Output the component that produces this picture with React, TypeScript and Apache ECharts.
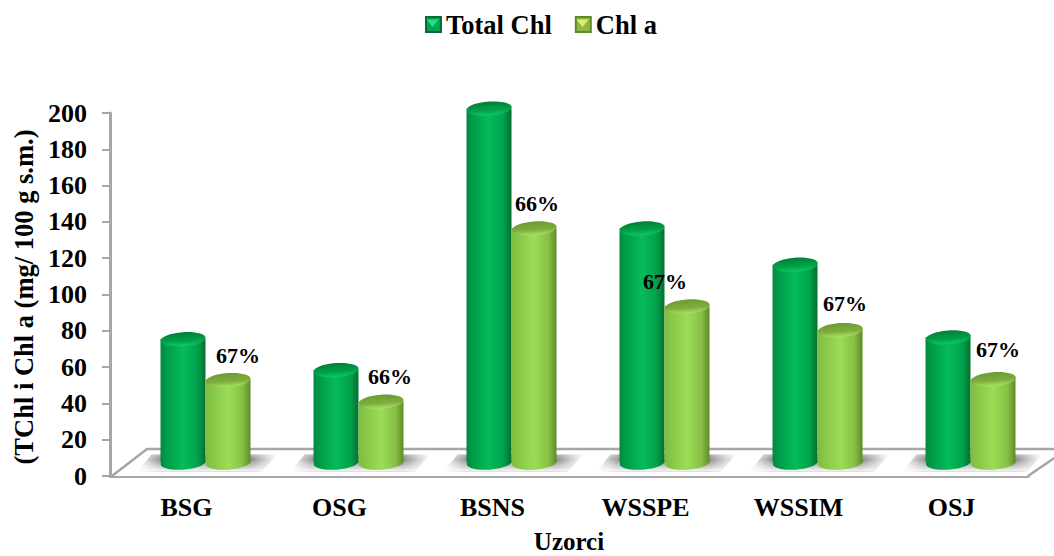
import React, { useEffect, useRef } from "react";
import * as echarts from "echarts";

const categories = ["BSG", "OSG", "BSNS", "WSSPE", "WSSIM", "OSJ"];
const totalChl = [68, 51, 195, 129, 109, 69];
const chlA = [45.5, 33.6, 129, 86, 73, 46];
const shareLabels = ["67%", "66%", "66%", "67%", "67%", "67%"];
const yTicks = [0, 20, 40, 60, 80, 100, 120, 140, 160, 180, 200];

// Hand placement of the percentage labels relative to the lighter cylinder's top.
const labelNudgeX = [10, 9, 3, -22, 5, 5];
const labelNudgeY = [-24, -25, -24.5, -24.5, -27, -30];

const FONT = '"Liberation Serif", "Times New Roman", serif';
const AXIS_GREY = "#a6a6a6";

// Oblique projection of the floor: the bars stand mid-way along its depth.
const DEPTH_X = 19;
const DEPTH_Y = -13.5;
const BAR_WIDTH = 45;
const ELLIPSE_RY = 7;
const TILT = 0.07;

const linear = (x2: number, y2: number, stops: [number, string][]) =>
  new echarts.graphic.LinearGradient(
    0,
    0,
    x2,
    y2,
    stops.map(([offset, color]) => ({ offset, color }))
  );

const palettes = {
  green: {
    body: [
      [0, "#008a3f"],
      [0.12, "#009a48"],
      [0.5, "#05bb5b"],
      [0.82, "#00a24c"],
      [1, "#056f30"],
    ] as [number, string][],
    top: [
      [0, "#007f38"],
      [0.6, "#00a049"],
      [1, "#10c767"],
    ] as [number, string][],
  },
  lime: {
    body: [
      [0, "#7fbb3f"],
      [0.15, "#87c646"],
      [0.5, "#9bdd57"],
      [0.82, "#87c045"],
      [1, "#5f8a2a"],
    ] as [number, string][],
    top: [
      [0, "#6b9a33"],
      [0.6, "#7fae3d"],
      [1, "#a8e265"],
    ] as [number, string][],
  },
};

// One cylinder: body, rounded foot, tilted cap, and an optional label above it.
function cylinderRenderer(
  palette: { body: [number, string][]; top: [number, string][] },
  side: -1 | 1,
  labels?: string[]
) {
  return (params: any, api: any) => {
    const i = api.value(0);
    const [cx0, topY0] = api.coord([i, api.value(1)]);
    const [, zeroY] = api.coord([i, 0]);
    const center = cx0 + DEPTH_X + (side * BAR_WIDTH) / 2;
    const topY = topY0 + DEPTH_Y;
    const baseY = zeroY + DEPTH_Y;
    const left = center - BAR_WIDTH / 2;
    const bodyFill = linear(1, 0, palette.body);
    const children: any[] = [
      {
        type: "ellipse",
        shape: { cx: center, cy: baseY, rx: BAR_WIDTH / 2, ry: ELLIPSE_RY },
        rotation: TILT,
        originX: center,
        originY: baseY,
        style: { fill: bodyFill },
      },
      {
        type: "rect",
        shape: { x: left, y: topY, width: BAR_WIDTH, height: baseY - topY },
        style: { fill: bodyFill },
      },
      {
        type: "ellipse",
        shape: { cx: center, cy: topY, rx: BAR_WIDTH / 2, ry: ELLIPSE_RY },
        rotation: TILT,
        originX: center,
        originY: topY,
        style: { fill: linear(0, 1, palette.top) },
      },
    ];
    if (labels) {
      children.push({
        type: "text",
        style: {
          text: labels[i],
          x: center + labelNudgeX[i],
          y: topY + labelNudgeY[i],
          fill: "#000",
          font: `bold 22px ${FONT}`,
          align: "center",
          verticalAlign: "middle",
        },
      });
    }
    return { type: "group", children };
  };
}

// Soft grey shadow cast on the floor around each pair of cylinders.
function shadowRenderer(params: any, api: any) {
  const i = api.value(0);
  const [cx0, zeroY] = api.coord([i, 0]);
  const c = cx0 + DEPTH_X;
  const y = zeroY + DEPTH_Y;
  const points = [
    [c - 68, y + 9],
    [c - 54, y - 8],
    [c + 72, y - 8],
    [c + 56, y + 9],
  ];
  return {
    type: "group",
    children: [
      {
        type: "polygon",
        shape: { points },
        style: {
          fill: linear(1, 0, [
            [0, "rgba(125,125,125,0)"],
            [0.16, "rgba(125,125,125,0.85)"],
            [0.8, "rgba(115,115,115,0.9)"],
            [1, "rgba(125,125,125,0)"],
          ]),
        },
      },
      {
        // Fades the shadow out towards the front of the floor.
        type: "polygon",
        shape: { points },
        style: {
          fill: linear(0, 1, [
            [0, "rgba(255,255,255,0.35)"],
            [0.3, "rgba(255,255,255,0.05)"],
            [1, "rgba(255,255,255,0.95)"],
          ]),
        },
      },
    ],
  };
}

// The floor slab, skewed back from the front edge of the category axis.
function floorRenderer(params: any, api: any) {
  const band = api.size([1, 0])[0];
  const [x0, y0] = api.coord([0, 0]);
  const [xn] = api.coord([categories.length - 1, 0]);
  const left = x0 - band / 2;
  const right = xn + band / 2;
  const backY = y0 - 27;
  return {
    type: "group",
    children: [
      {
        type: "polygon",
        shape: {
          points: [
            [left + 2, y0],
            [left + 37, backY],
            [right + 28, backY],
            [right + 28, y0 - 19],
            [right, y0],
          ],
        },
        style: { fill: "#ffffff" },
      },
      {
        type: "polyline",
        shape: {
          points: [
            [left + 2, y0],
            [left + 37, backY],
            [right + 28, backY],
          ],
        },
        style: { fill: "none", stroke: AXIS_GREY, lineWidth: 2.5 },
      },
      {
        type: "line",
        shape: { x1: right, y1: y0, x2: right + 28, y2: y0 - 19 },
        style: { stroke: AXIS_GREY, lineWidth: 2.5 },
      },
    ],
  };
}

// Bright inner facet on a legend swatch.
const swatchFacet = (left: number, color: string) => ({
  type: "polygon",
  z: 100,
  silent: true,
  shape: {
    points: [
      [left + 1.5, 19.5],
      [left + 13.5, 19.5],
      [left + 7.5, 27],
    ],
  },
  style: { fill: color },
});

export default function App() {
  const ref = useRef<HTMLDivElement>(null);

  useEffect(() => {
    document.body.style.margin = "0";
    const chart = echarts.init(ref.current!, undefined, { renderer: "svg" });
    const bold = { color: "#000", fontFamily: FONT, fontWeight: "bold" as const };
    chart.setOption({
      animation: false,
      backgroundColor: "#ffffff",
      legend: {
        left: 420,
        top: 6,
        itemWidth: 15,
        itemHeight: 15,
        itemGap: 23,
        selectedMode: false,
        icon: "rect",
        textStyle: { ...bold, fontSize: 26.5 },
        data: ["Total Chl", "Chl a"],
      },
      graphic: [swatchFacet(425, "#1fe08a"), swatchFacet(575, "#d8f070")],
      grid: { left: 110, right: 26, top: 113, bottom: 80, outerBoundsMode: "none" },
      xAxis: {
        type: "category",
        data: categories,
        axisLine: { lineStyle: { color: AXIS_GREY, width: 3 } },
        axisTick: { length: 8, lineStyle: { color: AXIS_GREY, width: 2 } },
        axisLabel: { ...bold, fontSize: 26, margin: 18 },
        name: "Uzorci",
        nameLocation: "middle",
        nameGap: 56,
        nameTextStyle: { ...bold, fontSize: 25, lineHeight: 18 },
      },
      yAxis: {
        type: "value",
        min: yTicks[0],
        max: yTicks[yTicks.length - 1],
        interval: yTicks[1] - yTicks[0],
        splitLine: { show: false },
        axisLine: { show: true, lineStyle: { color: AXIS_GREY, width: 3 } },
        axisTick: { show: true, length: 8, lineStyle: { color: AXIS_GREY, width: 2 } },
        axisLabel: { ...bold, fontSize: 26, margin: 23 },
        name: "(TChl i Chl a (mg/ 100 g s.m.)",
        nameLocation: "middle",
        nameGap: 73,
        nameRotate: 90,
        nameTextStyle: { ...bold, fontSize: 26.5, padding: [0, 5, 0, 0] },
      },
      series: [
        {
          id: "floor",
          type: "custom",
          silent: true,
          z: 1,
          renderItem: floorRenderer,
          data: [[0, 0]],
          encode: { x: 0, y: 1 },
        },
        {
          id: "shadows",
          type: "custom",
          silent: true,
          z: 2,
          renderItem: shadowRenderer,
          data: categories.map((_, i) => [i, 0]),
          encode: { x: 0, y: 1 },
        },
        {
          name: "Total Chl",
          type: "custom",
          z: 3,
          itemStyle: { color: "#00a653", borderColor: "#0a6a35", borderWidth: 1 },
          renderItem: cylinderRenderer(palettes.green, -1),
          data: totalChl.map((v, i) => [i, v]),
          encode: { x: 0, y: 1 },
        },
        {
          name: "Chl a",
          type: "custom",
          z: 4,
          itemStyle: { color: "#8fb843", borderColor: "#5f8a2a", borderWidth: 1 },
          renderItem: cylinderRenderer(palettes.lime, 1, shareLabels),
          data: chlA.map((v, i) => [i, v]),
          encode: { x: 0, y: 1 },
        },
      ],
    });
    return () => chart.dispose();
  }, []);

  return <div ref={ref} style={{ position: "absolute", left: 0, top: 0, width: 1054, height: 556 }} />;
}
